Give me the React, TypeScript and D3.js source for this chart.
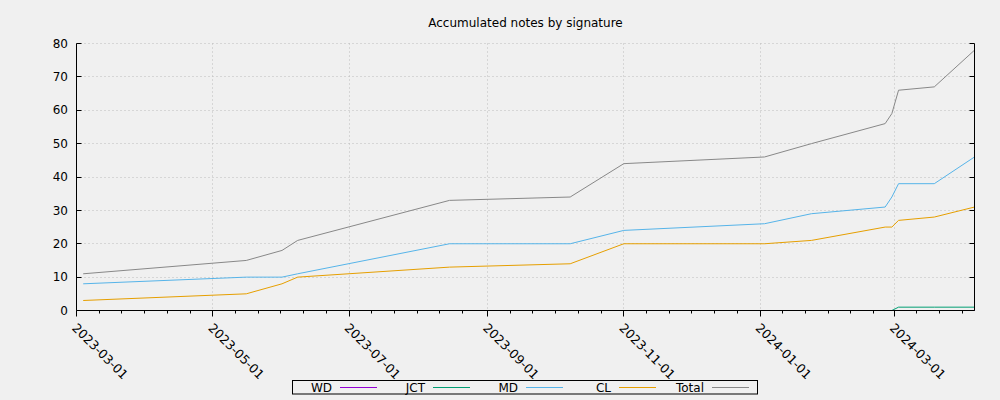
import React from "react";
import * as d3 from "d3";

const dates = [
  "2023-03-04", "2023-05-16", "2023-06-01", "2023-06-08", "2023-08-15",
  "2023-10-08", "2023-11-01", "2024-01-03", "2024-01-24", "2024-02-26",
  "2024-02-29", "2024-03-03", "2024-03-19", "2024-04-06",
];
const WD: (number | null)[] = [null, null, null, null, null, null, null, null, null, null, 0, 0, 0, 0];
const JCT: (number | null)[] = [null, null, null, null, null, null, null, null, null, null, 0, 1, 1, 1];
const MD: (number | null)[] = [8, 10, 10, 11, 20, 20, 24, 26, 29, 31, 34, 38, 38, 46];
const CL: (number | null)[] = [3, 5, 8, 10, 13, 14, 20, 20, 21, 25, 25, 27, 28, 31];
const Total: (number | null)[] = [11, 15, 18, 21, 33, 34, 44, 46, 50, 56, 59, 66, 67, 78];

const seriesNames = ["WD", "JCT", "MD", "CL", "Total"];
const seriesValues = [WD, JCT, MD, CL, Total];
const seriesColors = ["#9400d3", "#009e73", "#56b4e9", "#e69f00", "#888888"];

const xTickLabels = ["2023-03-01", "2023-05-01", "2023-07-01", "2023-09-01", "2023-11-01", "2024-01-01", "2024-03-01"];
const yTicks = [0, 10, 20, 30, 40, 50, 60, 70, 80];
const xDomain = ["2023-03-01", "2024-04-06"];

const title = "Accumulated notes by signature";

const W = 1000, H = 400;
const L = 76.5, R = 974.5, T = 43.5, B = 310.5;
const FONT = "DejaVu Sans";

export default function App() {
  const parse = d3.utcParse("%Y-%m-%d");
  const x = d3.scaleUtc().domain(xDomain.map((d) => parse(d)!)).range([L, R]);
  const y = d3.scaleLinear().domain([0, 80]).range([B, T]);

  const majorX = xTickLabels.map((d) => x(parse(d)!));
  const step = (majorX[1] - majorX[0]) / 6;
  const minorX: number[] = [];
  for (let i = 0; i < majorX.length; i++) {
    for (let k = 1; k < 6; k++) {
      const p = majorX[i] + k * step;
      if (p < R - 0.5) minorX.push(p);
    }
  }
  const snap = (v: number) => Math.round(v - 0.5) + 0.5;

  const line = d3
    .line<{ d: Date; v: number | null }>()
    .defined((p) => p.v !== null)
    .x((p) => x(p.d))
    .y((p) => y(p.v as number));

  const legendStart = 332;
  const legendStep = 93;

  return (
    <svg
      width={W}
      height={H}
      style={{ position: "absolute", left: 0, top: 0, background: "#f0f0f0" }}
      fontFamily={FONT}
    >
      <rect x={0} y={0} width={W} height={H} fill="#f0f0f0" />
      <text x={(L + R) / 2} y={27} textAnchor="middle" fontSize={12} fill="#000">
        {title}
      </text>

      {/* grid */}
      {yTicks.filter((t) => t > 0).map((t) => (
        <line key={"gy" + t} x1={L} x2={R} y1={snap(y(t))} y2={snap(y(t))} stroke="#bdbdbd" strokeWidth={1} strokeDasharray="1,3" />
      ))}
      {majorX.slice(1).map((px, i) => (
        <line key={"gx" + i} x1={snap(px)} x2={snap(px)} y1={T} y2={B} stroke="#bdbdbd" strokeWidth={1} strokeDasharray="1,3" />
      ))}

      {/* series */}
      {seriesValues.map((vals, si) => (
        <path
          key={seriesNames[si]}
          d={line(dates.map((d, i) => ({ d: parse(d)!, v: vals[i] }))) || ""}
          fill="none"
          stroke={seriesColors[si]}
          strokeWidth={1}
        />
      ))}

      {/* border: left, bottom, right */}
      <line x1={L} x2={L} y1={T} y2={B} stroke="#000" strokeWidth={1} />
      <line x1={R} x2={R} y1={T} y2={B} stroke="#000" strokeWidth={1} />
      <line x1={L} x2={R} y1={B} y2={B} stroke="#000" strokeWidth={1} />

      {/* y ticks */}
      {yTicks.map((t) => (
        <g key={"yt" + t}>
          <line x1={L} x2={L + 5} y1={snap(y(t))} y2={snap(y(t))} stroke="#000" />
          <line x1={R - 5} x2={R} y1={snap(y(t))} y2={snap(y(t))} stroke="#000" />
          <text x={68} y={y(t)} dy="0.35em" textAnchor="end" fontSize={12} fill="#000">
            {t}
          </text>
        </g>
      ))}

      {/* x ticks */}
      {majorX.map((px, i) => (
        <g key={"xt" + i}>
          <line x1={snap(px)} x2={snap(px)} y1={B} y2={B + 6} stroke="#000" />
          <text
            transform={`translate(${px + 1},${B + 12}) rotate(45)`}
            fontSize={12.5}
            fill="#000"
            dy="0.7em"
          >
            {xTickLabels[i]}
          </text>
        </g>
      ))}
      {minorX.map((px, i) => (
        <line key={"mx" + i} x1={snap(px)} x2={snap(px)} y1={B} y2={B + 3} stroke="#000" />
      ))}

      {/* legend */}
      <rect x={292.5} y={380.5} width={465} height={13.5} fill="none" stroke="#000" strokeWidth={1} />
      {seriesNames.map((n, i) => (
        <g key={"lg" + n}>
          <text x={legendStart + i * legendStep} y={387.5} dy="0.35em" textAnchor="end" fontSize={12} fill="#000">
            {n}
          </text>
          <line
            x1={legendStart + 8 + i * legendStep}
            x2={legendStart + 45 + i * legendStep}
            y1={387.5}
            y2={387.5}
            stroke={seriesColors[i]}
            strokeWidth={1}
          />
        </g>
      ))}
    </svg>
  );
}
